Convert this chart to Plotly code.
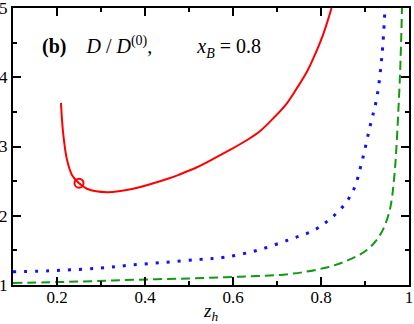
import plotly.graph_objects as go

# red solid curve
red_x = [0.209, 0.214, 0.223, 0.234, 0.25, 0.268, 0.314, 0.373, 0.45, 0.48, 0.518, 0.555, 0.593, 0.631, 0.661,
         0.692, 0.722, 0.745, 0.768, 0.783, 0.805, 0.824]
red_y = [3.63, 3.19, 2.80, 2.59, 2.47, 2.39, 2.34, 2.39, 2.53, 2.60, 2.70, 2.82, 2.95, 3.09, 3.22,
         3.41, 3.62, 3.84, 4.08, 4.28, 4.62, 5.0]

# blue dotted curve
blue_x = [0.1, 0.2, 0.298, 0.373, 0.45, 0.525, 0.58, 0.655, 0.73, 0.784, 0.82, 0.852, 0.875, 0.893, 0.911, 0.927, 0.939, 0.945]
blue_y = [1.19, 1.21, 1.245, 1.29, 1.33, 1.37, 1.40, 1.50, 1.66, 1.79, 1.95, 2.15, 2.39, 2.78, 3.28, 3.71, 4.35, 4.94]

# green dashed curve
green_x = [0.1, 0.25, 0.373, 0.5, 0.616, 0.73, 0.807, 0.859, 0.905, 0.934, 0.955, 0.966, 0.977, 0.982, 0.984]
green_y = [1.03, 1.05, 1.075, 1.095, 1.12, 1.16, 1.245, 1.35, 1.51, 1.72, 2.05, 2.53, 3.67, 4.49, 5.0]

marker_x = [0.25]
marker_y = [2.47]

serif = "Liberation Serif, Times New Roman, serif"
nb = "\u00a0"

fig = go.Figure()
fig.add_trace(go.Scatter(x=green_x, y=green_y, mode="lines", line=dict(color="#119911", width=2, dash="9px,5px", shape="spline")))
fig.add_trace(go.Scatter(x=blue_x, y=blue_y, mode="lines", line=dict(color="#1010ff", width=3, dash="3px,8px", shape="spline")))
fig.add_trace(go.Scatter(x=red_x, y=red_y, mode="lines", line=dict(color="#ff0000", width=2, shape="spline")))
fig.add_trace(go.Scatter(x=marker_x, y=marker_y, mode="markers",
                         marker=dict(symbol="circle-open", size=9, color="#ff0000", line=dict(width=2))))

label = ("<b>(b)</b>" + nb * 4 + "<i>D</i> / <i>D</i><sup>(0)</sup>," + nb * 9
         + "<i>x</i><sub><i>B</i></sub> = 0.8")
fig.add_annotation(xref="paper", yref="paper", x=0.068, y=0.86, xanchor="left", yanchor="middle", showarrow=False,
                   text=label, font=dict(family=serif, size=20, color="black"))

axis_common = dict(showgrid=False, zeroline=False, showline=True, linecolor="black", linewidth=2,
                   mirror="allticks", ticks="inside", ticklen=8, tickwidth=2, tickcolor="black",
                   tickfont=dict(family=serif, size=17, color="black"), automargin=False,
                   ticklabeloverflow="allow")

fig.update_xaxes(range=[0.1, 1.0], dtick=0.2, tick0=0, ticklabelstandoff=-4,
                 minor=dict(ticks="inside", ticklen=4, tickwidth=2, tickcolor="black", dtick=0.1, tick0=0),
                 title=dict(text="<i>z</i><sub><i>h</i></sub>", font=dict(family=serif, size=19, color="black"), standoff=0),
                 **axis_common)
fig.update_yaxes(range=[1, 5], dtick=1, ticklabelstandoff=0,
                 minor=dict(ticks="inside", ticklen=4, tickwidth=2, tickcolor="black", dtick=0.5, tick0=0),
                 **axis_common)

fig.update_layout(template="none", width=414, height=324, margin=dict(l=13, r=5, t=8, b=39),
                  font=dict(family=serif, color="black"),
                  plot_bgcolor="white", paper_bgcolor="white", showlegend=False)

fig.write_html("out.html", post_script="document.body.style.margin='0';", config={"displayModeBar": False})
